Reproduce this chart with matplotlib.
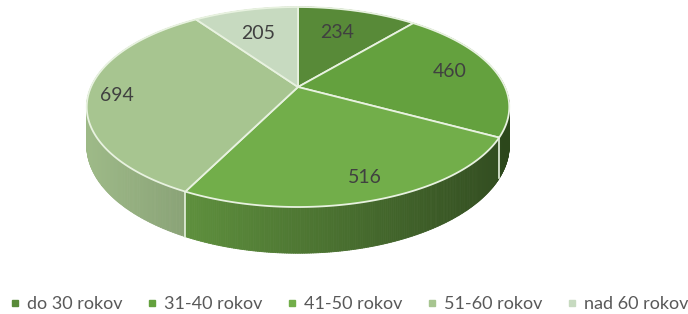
import numpy as np
import matplotlib
matplotlib.use("Agg")
import matplotlib.pyplot as plt
from matplotlib.patches import Polygon
from matplotlib.collections import PolyCollection
from matplotlib.lines import Line2D
from matplotlib.colors import to_rgb

# ---- data ----
categories = ["do 30 rokov", "31-40 rokov", "41-50 rokov", "51-60 rokov", "nad 60 rokov"]
values = [234, 460, 516, 694, 205]
colors = ["#588a38", "#64a13e", "#72ae4a", "#a7c590", "#c7dac0"]

# ---- geometry of the perspective pie (figure pixel space) ----
W, H = 688, 314
CX, CY = 298, 87      # pie centre on screen
A = 207               # horizontal radius
B = 96                # depth radius
E = 0.2               # perspective strength
T = 37                # thickness
EDGE = "#e8f2e0"

def proj(theta_deg, r=1.0, z=0.0):
    th = np.radians(theta_deg)
    u = r * np.sin(th)
    v = r * np.cos(th)
    s = 1 + E * v
    return CX + A * u / s, CY + (-B * v + z) / s

fig = plt.figure(figsize=(W / 100, H / 100), dpi=100)
ax = fig.add_axes([0, 0, 1, 1])
ax.set_xlim(0, W)
ax.set_ylim(H, 0)
ax.axis("off")

total = float(sum(values))
bounds = np.concatenate([[0], np.cumsum(values)]) / total * 360.0

# ---- sides (painter's order, far to near) ----
quads, qcols, depth = [], [], []
for i, c in enumerate(colors):
    a0, a1 = bounds[i], bounds[i + 1]
    n = max(int((a1 - a0) / 0.5), 2)
    ts = np.linspace(a0, a1, n + 1)
    base = np.array(to_rgb(c))
    for t0, t1 in zip(ts[:-1], ts[1:]):
        x0, y0 = proj(t0)
        x1, y1 = proj(t1)
        x0b, y0b = proj(t0, z=T)
        x1b, y1b = proj(t1, z=T)
        quads.append([(x0, y0), (x1, y1), (x1b, y1b), (x0b, y0b)])
        xm = 0.5 * (x0 + x1)
        xn = (xm - (CX - A)) / (2 * A)
        f = 0.94 - 0.5 * np.clip(xn, 0, 1)
        qcols.append(np.clip(base * f, 0, 1))
        depth.append(np.cos(np.radians(0.5 * (t0 + t1))))
order = np.argsort(depth)[::-1]
pc = PolyCollection([quads[k] for k in order],
                    facecolors=[qcols[k] for k in order],
                    edgecolors=[qcols[k] for k in order],
                    linewidths=0.6, zorder=1)
ax.add_collection(pc)

# visible slice-boundary edges on the side
for b in bounds[:-1]:
    if np.cos(np.radians(b)) < -0.1:
        x0, y0 = proj(b)
        x1, y1 = proj(b, z=T)
        ax.plot([x0, x1], [y0, y1], color=EDGE, lw=1.2, zorder=2)

# ---- top face ----
for i, c in enumerate(colors):
    a0, a1 = bounds[i], bounds[i + 1]
    ts = np.linspace(a0, a1, 200)
    xs, ys = proj(ts)
    pts = [(CX, CY)] + list(zip(xs, ys))
    ax.add_patch(Polygon(pts, closed=True, facecolor=c, edgecolor=EDGE,
                         lw=1.3, joinstyle="round", zorder=3))

# ---- data labels ----
vmax = max(values)
for i, v in enumerate(values):
    mid = 0.5 * (bounds[i] + bounds[i + 1])
    r = 0.63 + 0.23 * v / vmax - 0.04 * np.cos(np.radians(mid))
    x, y = proj(mid - 1.5, r=r)
    ax.text(x, y, str(v), ha="center", va="center", fontsize=14,
            family="Lato", color="#404040", zorder=5)

# ---- legend ----
handles = [Line2D([], [], marker="s", ls="", markersize=4.5, color=c) for c in colors]
fig.legend(handles, categories, loc="center", bbox_to_anchor=(0.507, 0.032),
           ncol=5, frameon=False, prop={"family": "Lato", "size": 13},
           labelcolor="#595959", handlelength=0.6, handletextpad=0.35,
           columnspacing=1.35)

fig.savefig("out.png", dpi=100, facecolor="white")
